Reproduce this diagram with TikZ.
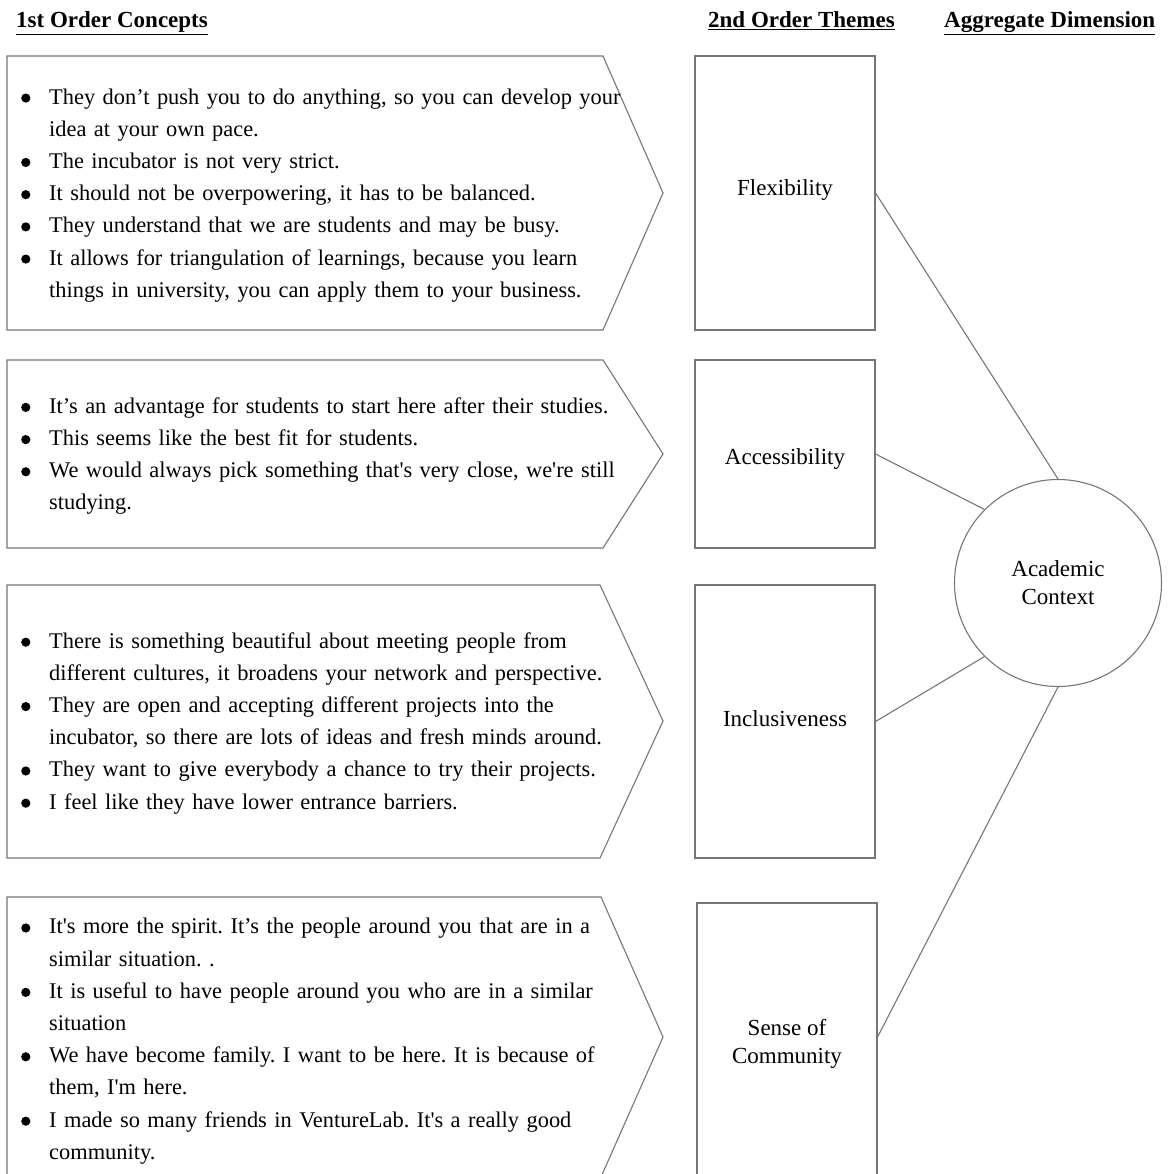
\documentclass[tikz,border=0pt]{standalone}
\usepackage{fontspec}
\setmainfont{Liberation Serif}[Ligatures=TeXOff]
\usetikzlibrary{positioning}

% round bullet drawn as a small filled disc
\newcommand{\dotmark}{\tikz[x=1pt,y=1pt,baseline=0pt]\fill[black] (5,6) circle (4.6);}
% one bulleted entry with a hanging indent
\newcommand{\bpt}[1]{\par\hangindent=28pt\hangafter=1\noindent\makebox[28pt][l]{\dotmark}#1}
\newcommand{\listfont}{\fontsize{22.4pt}{32.2pt}\selectfont\frenchspacing}
\newcommand{\labfont}{\fontsize{23pt}{28pt}\selectfont}

\tikzset{
  edge/.style={draw={rgb,255:red,118;green,118;blue,118}, line width=1.1pt},
  heading/.style={anchor=base west, inner sep=0pt, font=\fontsize{23pt}{28pt}\selectfont\bfseries},
  quotes/.style={anchor=west, inner sep=0pt, text width=640pt, align=left, font=\listfont},
  theme/.style={edge, rectangle, minimum width=180pt, inner sep=0pt, align=center, font=\labfont},
  dimension/.style={edge, circle, minimum size=207pt, inner sep=0pt, align=center, font=\labfont}
}

\begin{document}
\begin{tikzpicture}[x=1pt, y=-1pt]
\useasboundingbox (0,0) rectangle (1169,1174);
\clip (0,0) rectangle (1169,1174);

% column headings
\node[heading] (h1) at (16,28) {\underline{1st Order Concepts}};
\node[heading] (h2) at (708,28) {\underline{2nd Order Themes}};
\node[heading] (h3) at (944,28) {\underline{Aggregate Dimension}};

% first-order concept chevrons
\draw[edge] (7,56) -- (603,56) -- (663,193) -- (603,330) -- (7,330) -- cycle;
\draw[edge] (7,360) -- (603,360) -- (663,454) -- (603,548) -- (7,548) -- cycle;
\draw[edge] (7,585) -- (600,585) -- (663,721) -- (600,858) -- (7,858) -- cycle;
\draw[edge] (7,897) -- (601,897) -- (663,1037) -- (601,1177) -- (7,1177) -- cycle;

\node[quotes] (c1) at (21,187) {%
\bpt{They don’t push you to do anything, so you can develop your\newline idea at your own pace.}
\bpt{The incubator is not very strict.}
\bpt{It should not be overpowering, it has to be balanced.}
\bpt{They understand that we are students and may be busy.}
\bpt{It allows for triangulation of learnings, because you learn\newline things in university, you can apply them to your business.}\par};

\node[quotes] (c2) at (21,448) {%
\bpt{It’s an advantage for students to start here after their studies.}
\bpt{This seems like the best fit for students.}
\bpt{We would always pick something that's very close, we're still\newline studying.}\par};

\node[quotes] (c3) at (21,715) {%
\bpt{There is something beautiful about meeting people from\newline different cultures, it broadens your network and perspective.}
\bpt{They are open and accepting different projects into the\newline incubator, so there are lots of ideas and fresh minds around.}
\bpt{They want to give everybody a chance to try their projects.}
\bpt{I feel like they have lower entrance barriers.}\par};

\node[quotes] (c4) at (21,1033) {%
\bpt{It's more the spirit. It’s the people around you that are in a\newline similar situation. .}
\bpt{It is useful to have people around you who are in a similar\newline situation}
\bpt{We have become family. I want to be here. It is because of\newline them, I'm here.}
\bpt{I made so many friends in VentureLab. It's a really good\newline community.}\par};

% second-order themes
\node[theme, minimum height=274pt] (t1) at (785,193) {\raisebox{3pt}[\height][\depth]{Flexibility}};
\node[theme, minimum height=188pt] (t2) at (785,454) {\raisebox{-5pt}[\height][\depth]{Accessibility}};
\node[theme, minimum height=273pt] (t3) at (785,721.5) {\raisebox{2.5pt}[\height][\depth]{Inclusiveness}};
\node[theme, minimum height=282pt] (t4) at (787,1044) {Sense of\\Community};

% aggregate dimension
\node[dimension] (ac) at (1058,583) {Academic\\Context};

% links from themes to the dimension
\draw[edge] (t1.east) -- (ac.north);
\draw[edge] (t2.east) -- (ac.north west);
\draw[edge] (t3.east) -- (ac.south west);
\draw[edge] ([yshift=7pt]t4.east) -- (ac.south);
\end{tikzpicture}
\end{document}
